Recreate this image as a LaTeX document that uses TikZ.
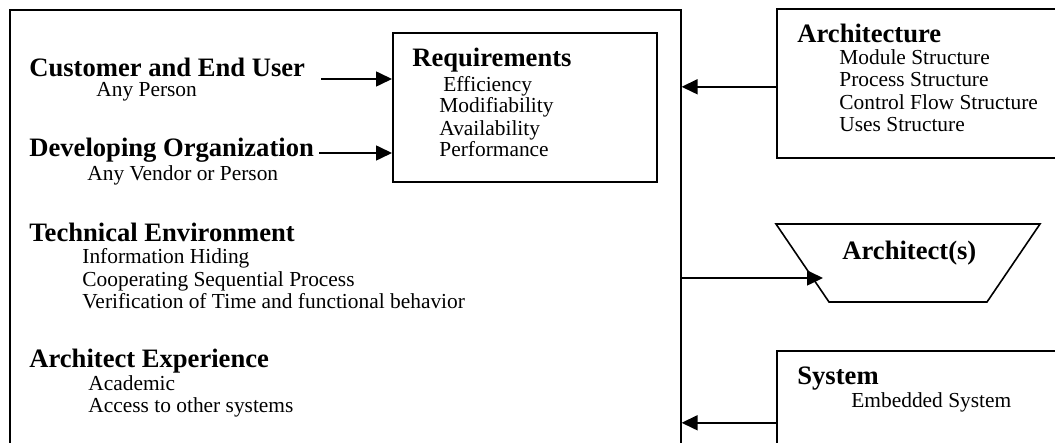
\documentclass[tikz,border=0pt]{standalone}
\usepackage{fontspec}
\setmainfont{Liberation Serif}
\usetikzlibrary{arrows.meta,positioning}

\tikzset{
  box/.style={draw, line width=0.8pt, rectangle, inner sep=0pt, anchor=north west},
  head/.style={font=\fontsize{13.3}{15}\selectfont\bfseries, anchor=base west, inner sep=0pt},
  item/.style={font=\fontsize{10.7}{12}\selectfont, anchor=base west, inner sep=0pt},
  flow/.style={-{Triangle[length=8pt,width=7.5pt]}, line width=0.8pt},
}

\begin{document}
\begin{tikzpicture}[x=0.5pt,y=-0.5pt]
  \useasboundingbox (0,0) rectangle (1055,443);
  \clip (0,0) rectangle (1055,443);

  % boxes
  \node[box, minimum width=335.5pt, minimum height=240pt] (env)  at (9,9)     {};
  \node[box, minimum width=132pt,   minimum height=74.5pt] (req) at (392,32)  {};
  \node[box, minimum width=160pt,   minimum height=74.5pt] (arch) at (776,8)  {};
  \node[box, minimum width=160pt,   minimum height=72pt]   (sys) at (776,350) {};
  \draw[line width=0.8pt] (776,224) -- (1040,224) -- (987,302) -- (829,302) -- cycle;

  % left column
  \node[head] (cust)  at (29,77)   {Customer and End User};
  \node[item] (custa) at (96,97)   {Any Person};
  \node[head] (dev)   at (29,157)  {Developing Organization};
  \node[item] (deva)  at (87,181)  {Any Vendor or Person};

  \node[head] (tech)  at (29,242)  {Technical Environment};
  \node[item] (techa) at (82,264)  {Information Hiding};
  \node[item] (techb) at (82,287)  {Cooperating Sequential Process};
  \node[item] (techc) at (82,309)  {Verification of Time and functional behavior};

  \node[head] (exp)   at (29,367)  {Architect Experience};
  \node[item] (expa)  at (88,390)  {Academic};
  \node[item] (expb)  at (88,412)  {Access to other systems};

  % requirements
  \node[head] (reqh)  at (412,67)  {Requirements};
  \node[item] (reqa)  at (443,92)  {Efficiency};
  \node[item] (reqb)  at (439,113) {Modifiability};
  \node[item] (reqc)  at (439,136) {Availability};
  \node[item] (reqd)  at (439,157) {Performance};

  % right column
  \node[head] (archh) at (797,43)  {Architecture};
  \node[item] (archa) at (839,65)  {Module Structure};
  \node[item] (archb) at (839,87)  {Process Structure};
  \node[item] (archc) at (839,110) {Control Flow Structure};
  \node[item] (archd) at (839,132) {Uses Structure};

  \node[head] (archs) at (842,260) {Architect(s)};

  \node[head] (sysh)  at (797,385) {System};
  \node[item] (sysa)  at (851,408) {Embedded System};

  % connectors
  \coordinate (custout) at ([xshift=8pt,yshift=-1pt]cust.base east);
  \coordinate (devout)  at ([xshift=2.5pt,yshift=2pt]dev.base east);
  \coordinate (archout) at ([yshift=-1.75pt]arch.west);
  \coordinate (archsin) at (823,278);

  \path[flow] (custout) edge (custout -| req.west);
  \path[flow] (devout)  edge (devout -| req.west);
  \path[flow] (archout) edge (archout -| env.east);
  \path[flow] (archsin -| env.east) edge (archsin);
  \path[flow] (sys.west) edge (sys.west -| env.east);

\end{tikzpicture}
\end{document}
